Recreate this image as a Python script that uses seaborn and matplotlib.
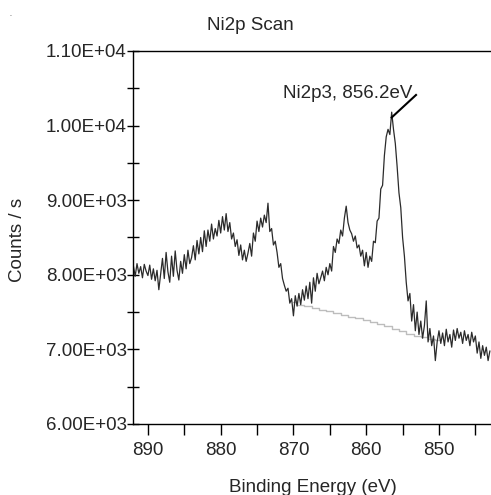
import numpy as np
import pandas as pd
import matplotlib
matplotlib.use("Agg")
import matplotlib.pyplot as plt
from matplotlib.ticker import MultipleLocator, FormatStrFormatter
import seaborn as sns

# ---- data ----
energy_start = 892.0
energy_end = 843.0
counts = [
    8120, 7980, 8150, 8020, 8110, 7960, 8140, 8050, 7990, 8130, 7940, 8080,
    7920, 8060, 7800, 8010, 8220, 7950, 8300, 8040, 7900, 8250, 7980, 8320,
    8060, 7930, 8180, 8020, 8270, 8080, 8330, 8150, 8230, 8390, 8200, 8460,
    8280, 8500, 8310, 8590, 8380, 8600, 8450, 8680, 8480, 8620, 8520, 8730,
    8560, 8780, 8600, 8820, 8580, 8700, 8480, 8560, 8380, 8470, 8260, 8400,
    8200, 8330, 8180, 8290, 8420, 8250, 8560, 8450, 8720, 8580, 8760, 8640,
    8800, 8700, 8960, 8580, 8620, 8400, 8450, 8300, 8100, 8150, 7950, 7860,
    7780, 7820, 7620, 7680, 7450, 7720, 7580, 7750, 7600, 7800, 7660, 7850,
    7680, 7900, 7620, 7960, 7780, 8020, 7880, 7960, 8050, 7920, 8100, 8000,
    8150, 8050, 8380, 8300, 8480, 8420, 8600, 8520, 8760, 8920, 8700, 8600,
    8550, 8450, 8520, 8360, 8400, 8250, 8330, 8120, 8300, 8100, 8250, 8180,
    8450, 8430, 8720, 8760, 9150, 9200, 9600, 9850, 9950, 9880, 10180, 9950,
    9760, 9450, 9100, 8900, 8500, 8250, 7900, 7650, 7750, 7380, 7600, 7250,
    7500, 7200, 7380, 7150, 7320, 7650, 7100, 7280, 7050, 7180, 6850, 7100,
    7250, 7080, 7220, 7050, 7270, 7100, 7200, 7030, 7260, 7120, 7280, 7150,
    7230, 7080, 7250, 7120, 7200, 7050, 7230, 7100, 7180, 6950, 7100, 6880,
    7050, 6920, 7030, 6850, 6980,
]
energy = np.linspace(energy_start, energy_end, len(counts))

bg_energy = [870, 869, 868, 867, 866, 865, 864, 863, 862, 861, 860,
             859, 858, 857, 856, 855, 854, 853, 852, 851, 850]
bg_counts = [7630, 7600, 7580, 7560, 7530, 7510, 7490, 7460, 7440, 7420, 7400,
             7370, 7340, 7310, 7280, 7250, 7210, 7180, 7160, 7140, 7130]

title = "Ni2p Scan"
xlabel = "Binding Energy (eV)"
ylabel = "Counts / s"
peak_label = "Ni2p3, 856.2eV"
peak_point = (856.6, 10100)
leader_end = (853.05, 10420)
label_pos = (853.6, 10435)

df = pd.DataFrame({"energy": energy, "counts": counts})
bg = pd.DataFrame({"energy": bg_energy, "counts": bg_counts})

# ---- plot ----
sns.set_style("white")
plt.rcParams["font.family"] = ["Liberation Sans", "DejaVu Sans"]

fig = plt.figure(figsize=(4.91, 4.95), dpi=100)
ax = fig.add_axes([133 / 491, 1 - 424 / 495, 358 / 491, (424 - 51) / 495])

sns.lineplot(data=bg, x="energy", y="counts", ax=ax, color="#bdbdbd",
             lw=1.0, drawstyle="steps-mid", sort=False, estimator=None)
sns.lineplot(data=df, x="energy", y="counts", ax=ax, color="#2b2b2b",
             lw=0.9, sort=False, estimator=None)

ax.set_xlim(892.05, 842.85)
ax.set_ylim(6000, 11000)

ax.xaxis.set_major_locator(MultipleLocator(10))
ax.xaxis.set_minor_locator(MultipleLocator(5))
ax.yaxis.set_major_locator(MultipleLocator(1000))
ax.yaxis.set_minor_locator(MultipleLocator(500))
ax.yaxis.set_major_formatter(FormatStrFormatter("%.2E"))
ax.xaxis.set_major_formatter(FormatStrFormatter("%d"))

ax.tick_params(axis="x", which="both", direction="out", length=8, width=1,
               color="black", labelsize=13.5, pad=5, bottom=True)
ax.tick_params(axis="y", which="both", direction="inout", length=9, width=1,
               color="black", labelsize=13.5, pad=0, left=True)

for s in ["left", "bottom", "top"]:
    ax.spines[s].set_visible(True)
    ax.spines[s].set_color("black")
    ax.spines[s].set_linewidth(1.0)
ax.spines["right"].set_visible(False)

ax.set_xlabel("")
ax.set_ylabel("")
fig.text(313 / 491, 1 - 487 / 495, xlabel, ha="center", va="center", fontsize=13.5)
fig.text(18 / 491, 1 - 240 / 495, ylabel, ha="center", va="center",
         rotation=90, fontsize=13.5)
fig.text(250 / 491, 1 - 25 / 495, title, ha="center", va="center", fontsize=13.5)
fig.text(10 / 491, 1 - 14 / 495, ".", ha="center", va="center", fontsize=5)

ax.plot([peak_point[0], leader_end[0]], [peak_point[1], leader_end[1]],
        color="black", lw=1.5, solid_capstyle="butt")
ax.text(label_pos[0], label_pos[1], peak_label, ha="right", va="center",
        fontsize=13.5)

fig.savefig("out.png", dpi=100)
